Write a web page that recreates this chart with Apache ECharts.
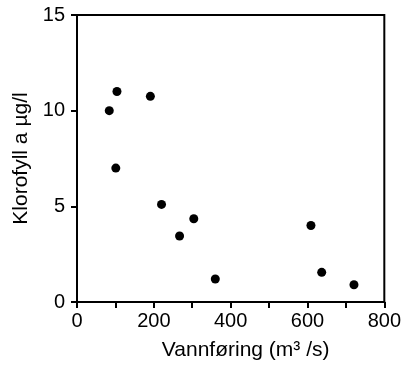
<!DOCTYPE html>
<html>
<head>
<meta charset="utf-8">
<script src="https://cdn.jsdelivr.net/npm/echarts@6.0.0/dist/echarts.min.js"></script>
<style>
  html, body { margin: 0; padding: 0; background: #fff; }
  #chart { width: 404px; height: 366px; }
</style>
</head>
<body>
<div id="chart"></div>
<script>
// discharge (m3/s) and chlorophyll a (ug/l)
const vannforing = [84, 104, 191, 101, 220, 267, 304, 360, 609, 637, 721];
const klorofyll = [10.0, 11.0, 10.75, 7.0, 5.1, 3.45, 4.35, 1.2, 4.0, 1.55, 0.9];

const xName = "Vannføring (m³ /s)";
const yName = "Klorofyll a µg/l";

const points = vannforing.map((v, i) => [v, klorofyll[i]]);

const chart = echarts.init(document.getElementById("chart"), null, { renderer: "canvas" });

const font = "Liberation Sans";
const black = "#000";

chart.setOption({
  animation: false,
  backgroundColor: "#fff",
  grid: {
    left: 77,
    top: 15,
    width: 310,
    height: 290,
    show: true,
    borderColor: black,
    borderWidth: 2,
  },
  xAxis: {
    type: "value",
    min: 0,
    max: 800,
    interval: 200,
    name: xName,
    nameLocation: "middle",
    nameGap: 38,
    nameTextStyle: { color: black, fontSize: 21, fontFamily: font, padding: [0, 0, 0, 30] },
    axisLine: { lineStyle: { color: black, width: 2 } },
    axisTick: { show: true, length: 6, lineStyle: { color: black, width: 2 } },
    minorTick: { show: true, splitNumber: 2, length: 6, lineStyle: { color: black, width: 2 } },
    axisLabel: { color: black, fontSize: 20, fontFamily: font, margin: 9 },
    splitLine: { show: false },
    minorSplitLine: { show: false },
  },
  yAxis: {
    type: "value",
    min: 0,
    max: 15,
    interval: 5,
    name: yName,
    nameLocation: "middle",
    nameGap: 45,
    nameTextStyle: { color: black, fontSize: 21, fontFamily: font },
    axisLine: { lineStyle: { color: black, width: 2 } },
    axisTick: { show: true, length: 6, lineStyle: { color: black, width: 2 } },
    axisLabel: { color: black, fontSize: 20, fontFamily: font, margin: 12 },
    splitLine: { show: false },
  },
  series: [
    {
      type: "scatter",
      data: points,
      symbol: "circle",
      symbolSize: 9,
      itemStyle: { color: black, opacity: 1 },
    },
  ],
});
</script>
</body>
</html>
